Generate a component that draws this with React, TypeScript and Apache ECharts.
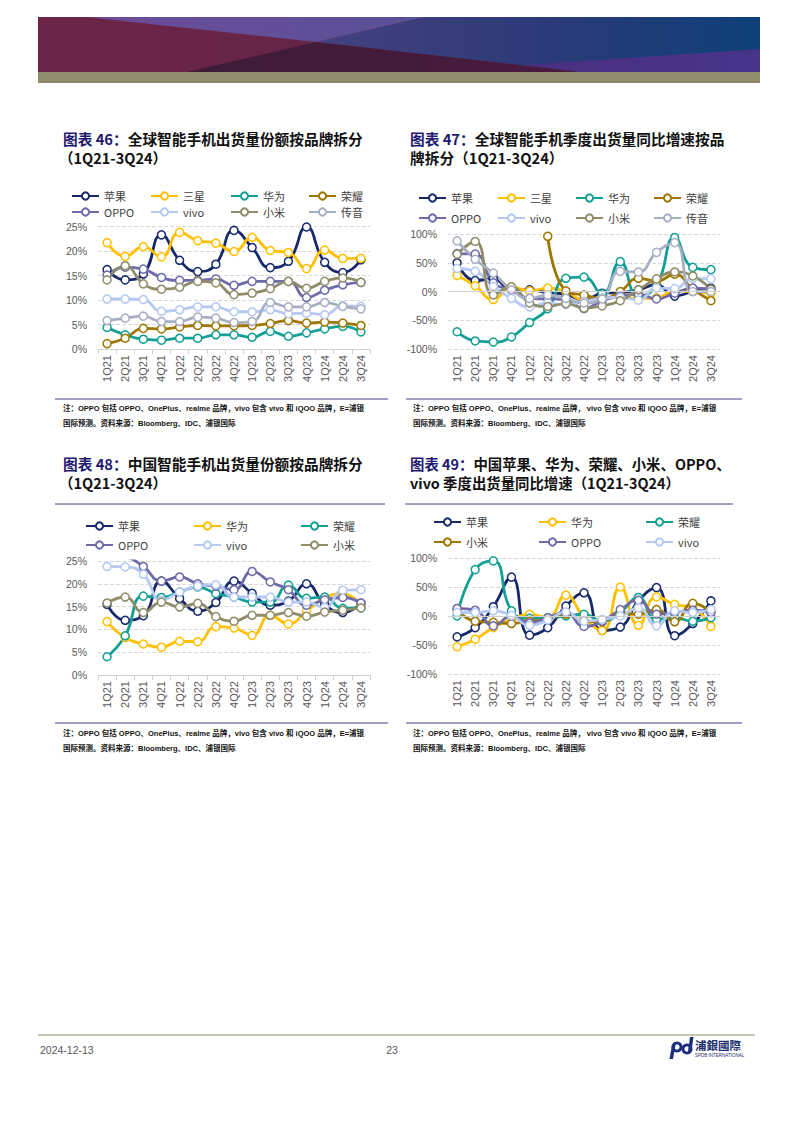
import React, { useEffect, useRef } from 'react';
import * as echarts from 'echarts';

// ---------- data ----------
const quarters = ['1Q21', '2Q21', '3Q21', '4Q21', '1Q22', '2Q22', '3Q22', '4Q22', '1Q23', '2Q23', '3Q23', '4Q23', '1Q24', '2Q24', '3Q24'];

const shareTicks = [0, 5, 10, 15, 20, 25];
const yoyTicks = [-100, -50, 0, 50, 100];

// Chart 46: global share (%)
const g46Apple = [16.2, 14.1, 15.3, 23.3, 18.1, 15.8, 17.3, 24.2, 20.7, 16.6, 17.9, 24.9, 17.7, 15.6, 18.2];
const g46Samsung = [21.7, 18.9, 20.9, 18.8, 23.8, 22.1, 21.6, 19.9, 22.8, 20.1, 19.7, 16.4, 20.2, 18.5, 18.5];
const g46Huawei = [4.4, 2.9, 2.0, 1.8, 2.2, 2.2, 2.9, 2.9, 2.4, 3.6, 2.6, 3.3, 4.1, 4.6, 3.5];
const g46Honor = [1.1, 2.2, 4.2, 4.1, 4.5, 4.8, 4.7, 4.7, 4.8, 5.2, 5.8, 5.3, 5.5, 5.3, 4.8];
const g46Oppo = [15.1, 16.7, 16.3, 14.6, 14.0, 14.0, 14.3, 13.0, 13.8, 13.8, 13.8, 10.5, 12.0, 13.1, 13.6];
const g46Vivo = [10.2, 10.2, 10.1, 7.7, 8.0, 8.6, 8.6, 7.6, 7.6, 8.0, 7.2, 7.3, 7.0, 8.8, 8.7];
const g46Xiaomi = [14.1, 17.0, 13.3, 12.2, 12.6, 13.8, 13.5, 11.1, 11.4, 12.3, 13.8, 12.4, 13.8, 14.5, 13.6];
const g46Transsion = [5.8, 6.3, 6.7, 5.6, 5.6, 6.5, 6.3, 5.4, 5.6, 9.5, 8.6, 8.6, 9.5, 8.7, 8.2];

// Chart 47: global YoY (%)
const g47Apple = [50, 19, 22, 3, 3, -2, -5, -15, -3, -2, 3, 12, -8, 0, 6];
const g47Samsung = [28, 10, -14, 8, 1, 6, 0, -15, -13, -10, -12, -11, 1, 0, -3];
const g47Huawei = [-70, -86, -88, -79, -54, -30, 23, 25, -4, 52, -8, 10, 94, 42, 38];
const g47Honor = [null, null, null, null, null, 96, 1, -6, -12, 0, 23, 18, 30, 4, -16];
const g47Oppo = [66, 65, 15, 3, -12, -13, -14, -30, -16, -8, -5, -13, -3, 6, 4];
const g47Vivo = [40, 35, 9, -12, -27, -20, -23, -17, -12, -10, -15, 6, 5, 23, 22];
const g47Xiaomi = [65, 87, -6, 8, -20, -26, -21, -29, -25, -16, 3, 22, 34, 27, 4];
const g47Transsion = [88, 56, 32, 3, -12, -6, -12, -20, -13, 35, 34, 68, 85, 0, 0];

// Chart 48: China share (%)
const c48Apple = [15.5, 12.0, 13.0, 20.6, 16.8, 14.0, 15.9, 20.6, 17.9, 15.3, 16.2, 20.0, 15.5, 13.7, 15.7];
const c48Huawei = [11.7, 8.2, 6.8, 6.1, 7.4, 7.3, 10.6, 10.3, 8.7, 13.1, 11.2, 14.0, 16.9, 17.8, 15.4];
const c48Honor = [4.0, 8.6, 17.3, 17.0, 18.2, 19.3, 17.9, 17.1, 16.0, 16.0, 19.7, 16.8, 17.1, 14.6, 14.7];
const c48Oppo = [26.5, 26.0, 23.8, 20.6, 21.5, 20.0, 19.5, 18.7, 22.7, 20.4, 18.7, 15.3, 16.5, 17.0, 15.8];
const c48Vivo = [23.8, 23.7, 22.1, 16.4, 18.2, 19.5, 19.8, 17.1, 17.1, 17.1, 16.0, 16.0, 14.8, 18.6, 18.7];
const c48Xiaomi = [15.8, 17.1, 13.7, 16.0, 14.9, 15.7, 12.8, 11.8, 13.1, 13.1, 13.7, 12.9, 13.8, 14.2, 14.7];

// Chart 49: China YoY (%)
const c49Apple = [-36, -20, 16, 67, -33, -20, 17, 40, -25, -19, 26, 49, -34, -13, 26];
const c49Huawei = [-53, -40, -20, -6, 3, -3, 36, -2, -25, 50, -16, 33, 20, 14, -18];
const c49Honor = [0, 80, 95, 9, -4, -3, 0, 3, -9, 6, 32, -6, -3, -9, -3];
const c49Xiaomi = [11, -9, -11, -13, -9, -6, 3, -9, -10, 6, 3, 11, -10, 22, 7];
const c49Oppo = [13, 10, -17, 0, -12, -3, 6, -18, -9, 11, 27, 3, 6, 10, 6];
const c49Vivo = [6, 6, 9, 1, -16, -7, 7, -9, -6, 0, 14, -17, 9, 6, 11];

// ---------- style ----------
const COL = {
  navy: '#17296b',
  yellow: '#ffc000',
  teal: '#13a094',
  brown: '#9e7700',
  purple: '#6e6ba8',
  light: '#b5c9f3',
  olive: '#8f8d6a',
  grey: '#a9afc3',
};
const FONT = '"Liberation Sans", Arial, "Noto Sans CJK SC", sans-serif';
const CJK = '"Noto Sans CJK SC", "Liberation Sans", sans-serif';
const NOTE_FONT = '"Liberation Sans Narrow", "Liberation Sans", "Noto Sans CJK SC", sans-serif';

const grids = [
  { left: 98, top: 226.5, width: 272, height: 122.5 },
  { left: 448, top: 234, width: 272, height: 115 },
  { left: 98, top: 561, width: 272, height: 114 },
  { left: 448, top: 558, width: 272, height: 116 },
];

const chartSeries: [string, (number | null)[], string][][] = [
  [
    ['苹果', g46Apple, COL.navy], ['三星', g46Samsung, COL.yellow], ['华为', g46Huawei, COL.teal], ['荣耀', g46Honor, COL.brown],
    ['OPPO', g46Oppo, COL.purple], ['vivo', g46Vivo, COL.light], ['小米', g46Xiaomi, COL.olive], ['传音', g46Transsion, COL.grey],
  ],
  [
    ['苹果', g47Apple, COL.navy], ['三星', g47Samsung, COL.yellow], ['华为', g47Huawei, COL.teal], ['荣耀', g47Honor, COL.brown],
    ['OPPO', g47Oppo, COL.purple], ['vivo', g47Vivo, COL.light], ['小米', g47Xiaomi, COL.olive], ['传音', g47Transsion, COL.grey],
  ],
  [
    ['苹果', c48Apple, COL.navy], ['华为', c48Huawei, COL.yellow], ['荣耀', c48Honor, COL.teal],
    ['OPPO', c48Oppo, COL.purple], ['vivo', c48Vivo, COL.light], ['小米', c48Xiaomi, COL.olive],
  ],
  [
    ['苹果', c49Apple, COL.navy], ['华为', c49Huawei, COL.yellow], ['荣耀', c49Honor, COL.teal],
    ['小米', c49Xiaomi, COL.brown], ['OPPO', c49Oppo, COL.purple], ['vivo', c49Vivo, COL.light],
  ],
];

// legend columns: [chart index, names, left, top, gap]
const legendCols: [number, string[], number, number, number][] = [
  [0, ['苹果', 'OPPO'], 71, 189, 2], [0, ['三星', 'vivo'], 150, 189, 2], [0, ['华为', '小米'], 230, 189, 2], [0, ['荣耀', '传音'], 308, 189, 2],
  [1, ['苹果', 'OPPO'], 418, 191, 6], [1, ['三星', 'vivo'], 497, 191, 6], [1, ['华为', '小米'], 575, 191, 6], [1, ['荣耀', '传音'], 653, 191, 6],
  [2, ['苹果', 'OPPO'], 85, 519, 5], [2, ['华为', 'vivo'], 193, 519, 5], [2, ['荣耀', '小米'], 300, 519, 5],
  [3, ['苹果', '小米'], 433, 515, 6], [3, ['华为', 'OPPO'], 538, 515, 6], [3, ['荣耀', 'vivo'], 645, 515, 6],
];

const titles = [
  { x: 63, y: 138, size: 14.7, pre: '图表 46：', text: '全球智能手机出货量份额按品牌拆分' },
  { x: 59, y: 157, size: 14.5, pre: '', text: '（1Q21-3Q24）' },
  { x: 410, y: 138, size: 14.7, pre: '图表 47：', text: '全球智能手机季度出货量同比增速按品' },
  { x: 410, y: 157, size: 14.7, pre: '', text: '牌拆分（1Q21-3Q24）' },
  { x: 63, y: 463, size: 14.7, pre: '图表 48：', text: '中国智能手机出货量份额按品牌拆分' },
  { x: 59, y: 482, size: 14.5, pre: '', text: '（1Q21-3Q24）' },
  { x: 410, y: 463, size: 14.4, pre: '图表 49：', text: '中国苹果、华为、荣耀、小米、OPPO、' },
  { x: 410, y: 482, size: 14.4, pre: '', text: 'vivo 季度出货量同比增速（1Q21-3Q24）' },
];

const noteL1 = '注：OPPO 包括 OPPO、OnePlus、realme 品牌，vivo 包含 vivo 和 iQOO 品牌，E=浦银';
const noteR1 = '注：OPPO 包括 OPPO、OnePlus、realme 品牌， vivo 包含 vivo 和 iQOO 品牌，E=浦银';
const note2 = '国际预测。资料来源：Bloomberg、IDC、浦银国际';

function buildOption() {
  const series: any[] = [];
  chartSeries.forEach((list, ci) => {
    list.forEach(([name, data, color]) => {
      series.push({
        type: 'line',
        name: name + '|' + ci,
        data,
        xAxisIndex: ci,
        yAxisIndex: ci,
        smooth: true,
        symbol: 'circle',
        symbolSize: 8,
        connectNulls: false,
        lineStyle: { color, width: 2.8 },
        itemStyle: { color: '#ffffff', borderColor: color, borderWidth: 1.5 },
        emphasis: { disabled: true },
      });
    });
  });
  // zero lines for YoY charts
  [1, 3].forEach((ci) => {
    series.push({
      type: 'line',
      name: 'zero|' + ci,
      data: [],
      xAxisIndex: ci,
      yAxisIndex: ci,
      z: 1,
      markLine: {
        silent: true,
        symbol: 'none',
        label: { show: false },
        lineStyle: { color: '#d0d0d0', type: 'solid', width: 1 },
        data: [{ yAxis: 0 }],
      },
    });
  });

  const legend = legendCols.map(([ci, names, left, top, gap]) => ({
    orient: 'vertical',
    left,
    top,
    padding: 0,
    itemGap: gap,
    itemWidth: 27,
    itemHeight: 9,
    selectedMode: false,
    data: names.map((n) => n + '|' + ci),
    formatter: (n: string) => n.split('|')[0],
    textStyle: { color: '#404040', fontSize: 11, fontFamily: CJK, lineHeight: 14 },
  }));

  const xAxis = grids.map((_, i) => ({
    gridIndex: i,
    type: 'category',
    data: quarters,
    boundaryGap: true,
    position: 'bottom',
    axisLine: { show: i % 2 === 0, onZero: false, lineStyle: { color: '#d0d0d0' } },
    axisTick: { show: i % 2 === 0, length: 5, lineStyle: { color: '#d0d0d0' } },
    axisLabel: { rotate: 90, interval: 0, color: '#595959', fontSize: 11, fontFamily: FONT, margin: 6 },
    splitLine: { show: false },
  }));

  const yAxis = grids.map((_, i) => {
    const ticks = i % 2 === 0 ? shareTicks : yoyTicks;
    return {
      gridIndex: i,
      type: 'value',
      min: ticks[0],
      max: ticks[ticks.length - 1],
      interval: ticks[1] - ticks[0],
      axisLine: { show: false },
      axisTick: { show: false },
      axisLabel: { formatter: '{value}%', color: '#595959', fontSize: 10.5, fontFamily: FONT, margin: 11 },
      splitLine: { lineStyle: { color: '#d9d9d9', type: 'dashed', width: 1 } },
    };
  });

  const graphic: any[] = [];
  // header banner
  graphic.push({
    type: 'rect', shape: { x: 38, y: 17, width: 722, height: 55 },
    style: { fill: new echarts.graphic.LinearGradient(0, 0, 1, 0, [{ offset: 0, color: '#6c2548' }, { offset: 1, color: '#5a2446' }]) },
  });
  graphic.push({
    type: 'polygon', shape: { points: [[424, 17], [760, 17], [760, 72], [581, 72], [316, 42]] },
    style: { fill: new echarts.graphic.LinearGradient(0, 0, 1, 0, [{ offset: 0, color: '#44417f' }, { offset: 0.5, color: '#2c3a77' }, { offset: 1, color: '#0e4079' }]) },
  });
  graphic.push({
    type: 'polygon', shape: { points: [[86, 17], [424, 17], [316, 42]] },
    style: { fill: new echarts.graphic.LinearGradient(0, 0, 1, 0, [{ offset: 0, color: '#6d4c9a' }, { offset: 1, color: '#5a5196' }]) },
  });
  graphic.push({
    type: 'polygon', shape: { points: [[187, 72], [316, 42], [581, 72]] },
    style: { fill: new echarts.graphic.LinearGradient(0, 0, 1, 0, [{ offset: 0, color: '#3d1c37' }, { offset: 1, color: '#4a1a3f' }]) },
  });
  graphic.push({
    type: 'polygon', shape: { points: [[525, 65], [760, 49], [760, 72], [581, 72]] },
    style: { fill: new echarts.graphic.LinearGradient(0, 0, 1, 0, [{ offset: 0, color: '#4c2e80' }, { offset: 1, color: '#46358b' }]) },
  });
  graphic.push({ type: 'rect', shape: { x: 38, y: 72, width: 722, height: 11 }, style: { fill: '#8f8c6b' } });

  // titles
  titles.forEach((t) => {
    graphic.push({
      type: 'text', x: t.x, y: t.y,
      style: {
        text: (t.pre ? '{a|' + t.pre + '}' : '') + '{b|' + t.text + '}',
        verticalAlign: 'middle',
        rich: {
          a: { fill: '#1f1b70', fontSize: t.size, lineHeight: 17, fontWeight: 'bold', fontFamily: CJK },
          b: { fill: '#111111', fontSize: t.size, lineHeight: 17, fontWeight: 'bold', fontFamily: CJK },
        },
      },
    });
  });

  // separators under titles for charts 48/49
  graphic.push({ type: 'line', shape: { x1: 55, y1: 504, x2: 385, y2: 504 }, style: { stroke: '#4b3f8f', lineWidth: 1 } });
  graphic.push({ type: 'line', shape: { x1: 405, y1: 504, x2: 733, y2: 504 }, style: { stroke: '#4b3f8f', lineWidth: 1 } });

  // note separators and notes
  [[399, 408, 423], [723, 733, 748]].forEach(([ly, t1, t2]) => {
    graphic.push({ type: 'line', shape: { x1: 55, y1: ly, x2: 388, y2: ly }, style: { stroke: '#4b3f8f', lineWidth: 1 } });
    graphic.push({ type: 'line', shape: { x1: 406, y1: ly, x2: 742, y2: ly }, style: { stroke: '#4b3f8f', lineWidth: 1 } });
    const ns = { fontSize: 7.5, fontWeight: 'bold', fontFamily: NOTE_FONT, fill: '#111111', verticalAlign: 'middle' };
    graphic.push({ type: 'text', x: 63, y: t1, style: { ...ns, text: noteL1 } });
    graphic.push({ type: 'text', x: 63, y: t2, style: { ...ns, text: note2 } });
    graphic.push({ type: 'text', x: 413, y: t1, style: { ...ns, text: noteR1 } });
    graphic.push({ type: 'text', x: 413, y: t2, style: { ...ns, text: note2 } });
  });

  // footer
  graphic.push({ type: 'line', shape: { x1: 38, y1: 1035, x2: 755, y2: 1035 }, style: { stroke: '#8f8c6b', lineWidth: 1.2 } });
  graphic.push({ type: 'text', x: 40, y: 1050, style: { text: '2024-12-13', fontSize: 10.5, fontFamily: FONT, fill: '#595959', verticalAlign: 'middle' } });
  graphic.push({ type: 'text', x: 392, y: 1050, style: { text: '23', fontSize: 10.5, fontFamily: FONT, fill: '#595959', align: 'center', verticalAlign: 'middle' } });
  // logo
  graphic.push({ type: 'ring', shape: { cx: 677, cy: 1047, r: 5.5, r0: 2.6 }, style: { fill: '#1d2f7c' } });
  graphic.push({ type: 'polygon', shape: { points: [[672, 1045], [675.5, 1045], [673, 1059], [669.5, 1059]] }, style: { fill: '#1d2f7c' } });
  graphic.push({ type: 'ring', shape: { cx: 687, cy: 1049, r: 5.5, r0: 2.6 }, style: { fill: '#1d2f7c' } });
  graphic.push({ type: 'polygon', shape: { points: [[690, 1037], [693.5, 1037], [691.5, 1051], [688, 1051]] }, style: { fill: '#1d2f7c' } });
  graphic.push({ type: 'text', x: 695, y: 1045, style: { text: '浦銀國際', fontSize: 11.5, fontWeight: 'bold', fontFamily: CJK, fill: '#1d2f6f', verticalAlign: 'middle' } });
  graphic.push({ type: 'text', x: 695, y: 1055, style: { text: 'SPDB INTERNATIONAL', fontSize: 4.5, fontFamily: FONT, fill: '#1d2f6f', verticalAlign: 'middle' } });

  return {
    animation: false,
    backgroundColor: '#ffffff',
    grid: grids.map((g) => ({ ...g, containLabel: false })),
    xAxis,
    yAxis,
    legend,
    series,
    graphic,
  };
}

export default function App() {
  const ref = useRef<HTMLDivElement>(null);
  useEffect(() => {
    if (!ref.current) return;
    const chart = echarts.init(ref.current, null, { renderer: 'svg' });
    chart.setOption(buildOption() as any);
    return () => chart.dispose();
  }, []);
  return <div ref={ref} style={{ position: 'absolute', left: 0, top: 0, width: 793, height: 1122 }} />;
}
